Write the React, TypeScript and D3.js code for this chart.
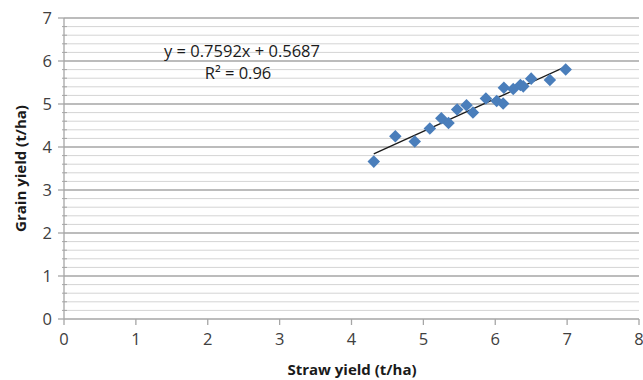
import * as React from 'react';
import * as d3 from 'd3';

const strawYield = [4.31, 4.61, 4.88, 5.09, 5.25, 5.35, 5.47, 5.6, 5.69, 5.87, 6.02, 6.11, 6.12, 6.25, 6.35, 6.39, 6.5, 6.76, 6.98];
const grainYield = [3.66, 4.25, 4.13, 4.43, 4.67, 4.56, 4.87, 4.97, 4.8, 5.13, 5.07, 5.01, 5.38, 5.35, 5.44, 5.41, 5.59, 5.56, 5.8];
const xTicks = [0, 1, 2, 3, 4, 5, 6, 7, 8];
const yTicks = [0, 1, 2, 3, 4, 5, 6, 7];
const slope = 0.7592;
const intercept = 0.5687;
const equationLabel = 'y = 0.7592x + 0.5687';
const r2Label = 'R² = 0.96';

const W = 643;
const H = 380;
const left = 64;
const right = 639;
const top = 18;
const bottom = 319;

const font = '"Open Sans", sans-serif';

const App = () => {
  const x = d3.scaleLinear().domain([0, 8]).range([left, right]);
  const y = d3.scaleLinear().domain([0, 7]).range([bottom, top]);

  const minor = d3.range(0, 7.0001, 0.2).filter((v) => Math.abs(v - Math.round(v)) > 0.01);
  const pts = strawYield.map((s, i) => [s, grainYield[i]]);
  const x0 = d3.min(strawYield);
  const x1 = d3.max(strawYield);
  const trend = d3.line()([
    [x(x0), y(slope * x0 + intercept)],
    [x(x1), y(slope * x1 + intercept)],
  ]);
  const diamond = d3.symbol().type(d3.symbolDiamond2).size(100)();

  return (
    <svg width={W} height={H} style={{ position: 'absolute', left: 0, top: 0 }}>
      <rect width={W} height={H} fill="#fff" />
      {minor.map((v) => (
        <g key={'m' + v}>
          <line x1={left} x2={right} y1={y(v)} y2={y(v)} stroke="#d4d4d4" strokeWidth={1} />
          <line x1={left - 2} x2={left + 3} y1={y(v)} y2={y(v)} stroke="#a6a6a6" strokeWidth={1} />
        </g>
      ))}
      {yTicks.map((v) => (
        <g key={'y' + v}>
          {v > 0 && <line x1={left} x2={right} y1={y(v)} y2={y(v)} stroke="#a6a6a6" strokeWidth={1.3} />}
          <line x1={left - 6} x2={left} y1={y(v)} y2={y(v)} stroke="#a6a6a6" strokeWidth={1.3} />
          <text x={left - 12} y={y(v) + 6} textAnchor="end" fontFamily={font} fontSize={16.5} fill="#404040">{v}</text>
        </g>
      ))}
      <line x1={left} x2={left} y1={top} y2={bottom} stroke="#a6a6a6" strokeWidth={1.3} />
      <line x1={left} x2={right} y1={bottom} y2={bottom} stroke="#a6a6a6" strokeWidth={1.3} />
      {xTicks.map((v) => (
        <g key={'x' + v}>
          <line x1={x(v)} x2={x(v)} y1={bottom} y2={bottom + 6} stroke="#a6a6a6" strokeWidth={1.3} />
          <text x={x(v)} y={bottom + 26} textAnchor="middle" fontFamily={font} fontSize={16.5} fill="#404040">{v}</text>
        </g>
      ))}
      <path d={trend} stroke="#1a1a1a" strokeWidth={1.3} fill="none" />
      {pts.map(([a, b], i) => (
        <path key={i} d={diamond} transform={`translate(${x(a)},${y(b)})`} fill="#4a7ebb" />
      ))}
      <text x={242} y={57} textAnchor="middle" fontFamily={font} fontSize={16.5} fill="#1a1a1a">{equationLabel}</text>
      <text x={238} y={79} textAnchor="middle" fontFamily={font} fontSize={16.5} fill="#1a1a1a">{r2Label}</text>
      <text x={352} y={375} textAnchor="middle" fontFamily={font} fontSize={15} fontWeight="bold" fill="#1a1a1a">Straw yield (t/ha)</text>
      <text transform={`translate(26,${(top + bottom) / 2}) rotate(-90)`} textAnchor="middle" fontFamily={font} fontSize={15} fontWeight="bold" fill="#1a1a1a">Grain yield (t/ha)</text>
    </svg>
  );
};

export default App;
